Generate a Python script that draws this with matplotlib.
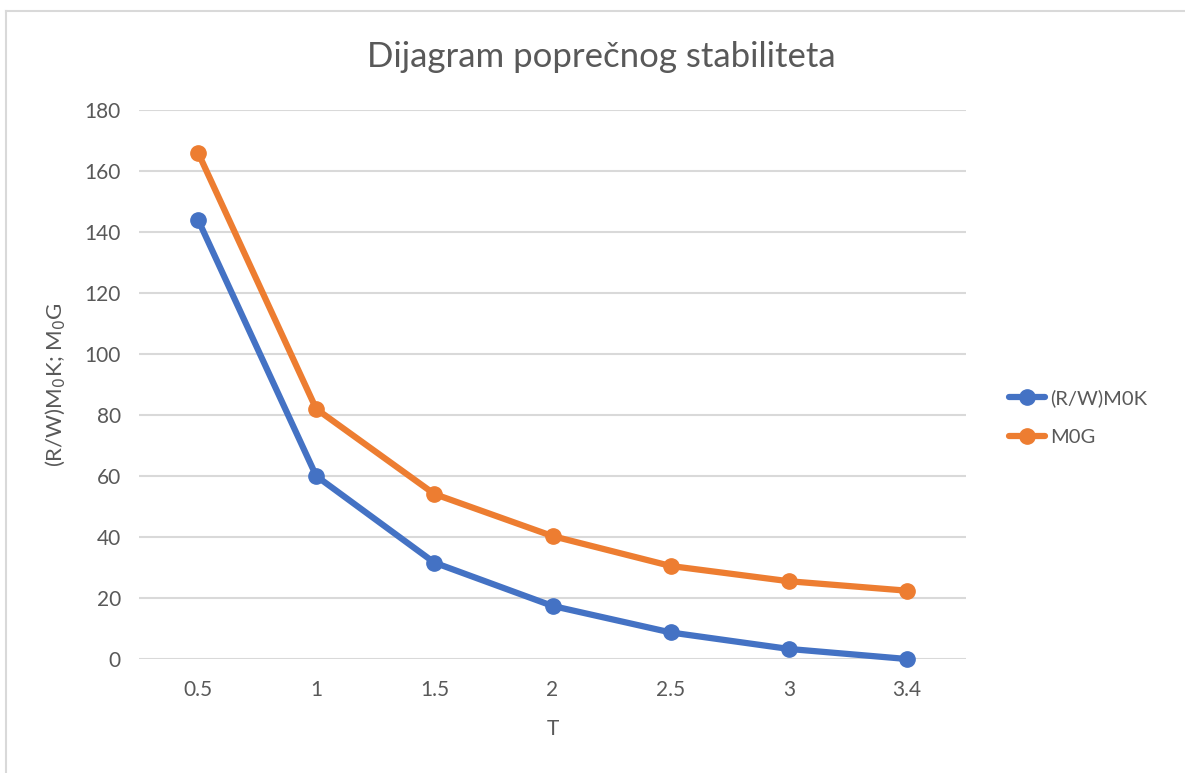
import matplotlib
matplotlib.use('Agg')
import matplotlib.pyplot as plt
from matplotlib.lines import Line2D

plt.rcParams['font.family'] = ['Lato', 'DejaVu Sans']

# podaci sa dijagrama
t_labels = ['0.5', '1', '1.5', '2', '2.5', '3', '3.4']
rw_m0k = [144, 60, 31.6, 17.4, 8.7, 3.3, 0]
m0g = [166, 82, 54.1, 40.3, 30.5, 25.5, 22.4]

blue = '#4472C4'
orange = '#ED7D31'
txt = '#595959'

fig = plt.figure(figsize=(11.85, 7.73), dpi=100)
ax = fig.add_axes([139 / 1185, 1 - 659 / 773, (966 - 139) / 1185, (659 - 110) / 773])

x = range(len(t_labels))
ax.plot(x, rw_m0k, color=blue, lw=4.5, marker='o', ms=11, label='(R/W)M0K',
        solid_capstyle='round', zorder=3, clip_on=False)
ax.plot(x, m0g, color=orange, lw=4.5, marker='o', ms=11, label='M0G',
        solid_capstyle='round', zorder=3, clip_on=False)

ax.set_xlim(-0.5, len(t_labels) - 0.5)
ax.set_ylim(0, 180)
ax.set_yticks(range(0, 181, 20))
ax.set_xticks(list(x))
ax.set_xticklabels(t_labels)
ax.grid(axis='y', color='#d9d9d9', lw=1.5)
ax.set_axisbelow(True)
for s in ax.spines.values():
    s.set_visible(False)
ax.tick_params(axis='x', length=0, labelsize=15, labelcolor=txt, pad=15)
ax.tick_params(axis='y', length=0, labelsize=15, labelcolor=txt, pad=13)

ax.set_xlabel('T', fontsize=15, color=txt, labelpad=14)
ax.set_ylabel('(R/W)M$_0$K; M$_0$G', fontsize=16, color=txt, labelpad=12)
fig.text(601 / 1185, 1 - 57 / 773, 'Dijagram poprečnog stabiliteta', fontsize=25,
         color=txt, ha='center', va='center')

ax.legend(loc='center left', bbox_to_anchor=(1.03, 0.44), frameon=False,
          fontsize=14.5, labelcolor=txt, handlelength=1.8, labelspacing=1.1,
          handletextpad=0.25)

fig.add_artist(Line2D([6 / 1185, 6 / 1185], [0, 1 - 11 / 773], color='#d9d9d9', lw=1.5))
fig.add_artist(Line2D([6 / 1185, 1], [1 - 11 / 773, 1 - 11 / 773], color='#d9d9d9', lw=1.5))

fig.savefig('out.png', dpi=100, facecolor='white')
